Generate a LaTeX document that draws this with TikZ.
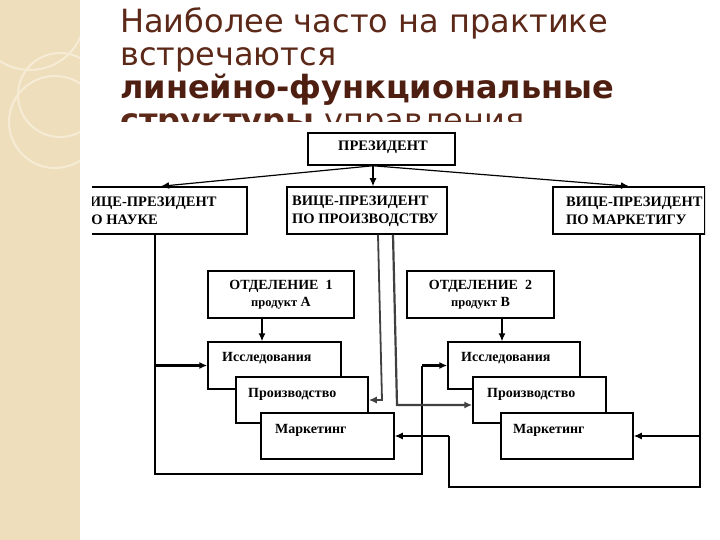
\documentclass[tikz,border=0pt]{standalone}
\usepackage{fontspec}
\setmainfont{Liberation Serif}
\newfontfamily\titlefont{DejaVu Sans}
\usetikzlibrary{arrows.meta,calc}
\definecolor{beige}{RGB}{238,222,188}
\definecolor{beigelight}{RGB}{246,236,214}
\definecolor{titlebrown}{RGB}{92,40,24}
\definecolor{titledark}{RGB}{78,30,16}
\begin{document}
\begin{tikzpicture}[x=1pt,y=-1pt,
  box/.style={draw, line width=1.5pt, fill=white, inner sep=0pt, rectangle},
  btxt/.style={font=\bfseries\fontsize{14}{18}\selectfont, inner sep=0pt},
  vtxt/.style={font=\bfseries\fontsize{14.5}{18}\selectfont, inner sep=0pt},
  ttl/.style={anchor=base west, inner sep=0pt, text=titlebrown, font=\titlefont\fontsize{32}{32}\selectfont},
  arr/.style={-{Latex[length=8pt,width=7pt]}, line width=1.2pt},
  thickarr/.style={-{Latex[length=8pt,width=7pt]}, line width=2.4pt},
  grayline/.style={-{Latex[length=8pt,width=7pt]}, line width=1.8pt, draw=black!75}
]
\useasboundingbox (0,0) rectangle (720,540);
% left decorative strip
\fill[beige] (0,0) rectangle (80,540);
\begin{scope}
\clip (0,0) rectangle (80,540);
\draw[beigelight, line width=2pt] (60,95) circle (42);
\draw[beigelight, line width=2pt] (30,15) circle (55);
\draw[beigelight, line width=2pt] (55,122) circle (46);
\end{scope}
% title
\node[ttl] (t1) at (120,33) {Наиболее часто на практике};
\node[ttl] (t2) at (120,66) {встречаются};
\node[ttl, text=titledark, font=\titlefont\bfseries\fontsize{32}{32}\selectfont] (t3) at (120,99) {линейно-функциональные};
\node[ttl] (t4) at (120,131.5) {{\bfseries структуры} управления};
% diagram background
\fill[white] (88,122) rectangle (720,500);
\begin{scope}
\clip (92,122) rectangle (705,500);
% boxes
\node[box, minimum width=147, minimum height=32] (pres) at (381.5,149) {};
\node[vtxt] (prest) at (383,147) {ПРЕЗИДЕНТ};
\node[box, minimum width=172, minimum height=47] (vps) at (161,210.5) {};
\node[vtxt, anchor=west, align=left] (vpst) at (80,211) {ВИЦЕ-ПРЕЗИДЕНТ\\ПО НАУКЕ};
\node[box, minimum width=160, minimum height=47] (vpp) at (367,210.5) {};
\node[vtxt, anchor=west, align=left] (vppt) at (292,211) {ВИЦЕ-ПРЕЗИДЕНТ\\ПО ПРОИЗВОДСТВУ};
\node[box, minimum width=152, minimum height=47] (vpm) at (629,210.5) {};
\node[vtxt, anchor=west, align=left] (vpmt) at (566,211) {ВИЦЕ-ПРЕЗИДЕНТ\\ПО МАРКЕТИГУ};
\node[box, minimum width=146, minimum height=47] (d1) at (281,294.5) {};
\node[btxt, align=center] (d1t) at (281,294.5) {ОТДЕЛЕНИЕ\ \ 1\\[-1pt]{\fontsize{12.5}{12.5}\selectfont продукт} А};
\node[box, minimum width=147, minimum height=47] (d2) at (480.5,294.5) {};
\node[btxt, align=center] (d2t) at (480.5,294.5) {ОТДЕЛЕНИЕ\ \ 2\\[-1pt]{\fontsize{12.5}{12.5}\selectfont продукт} В};
% division 1 units
\node[box, minimum width=133, minimum height=47] (r1) at (274.5,365.5) {};
\node[btxt, anchor=west] (r1t) at (222,358) {Исследования};
\node[box, minimum width=132, minimum height=46] (p1) at (302,400) {};
\node[btxt, anchor=west] (p1t) at (248,394) {Производство};
\node[box, minimum width=133, minimum height=46] (m1) at (327.5,436) {};
\node[btxt, anchor=west] (m1t) at (275,430) {Маркетинг};
% division 2 units
\node[box, minimum width=132, minimum height=47] (r2) at (514,365.5) {};
\node[btxt, anchor=west] (r2t) at (461,358) {Исследования};
\node[box, minimum width=133, minimum height=46] (p2) at (539.5,400) {};
\node[btxt, anchor=west] (p2t) at (487,394) {Производство};
\node[box, minimum width=132, minimum height=46] (m2) at (567,436) {};
\node[btxt, anchor=west] (m2t) at (513,430) {Маркетинг};
% president connectors
\coordinate (po) at ($(pres.south)+(-8.5,0)$);
\draw[arr] (po) -- (vps.north);
\draw[arr] (po) -- (po |- vpp.north);
\draw[arr] (po) -- (vpm.north);
% division to research
\draw[arr] ($(d1.south)+(-19,0)$) -- ($(r1.north)+(-12.5,0)$);
\draw[arr] ($(d2.south)+(21.5,0)$) -- ($(r2.north)+(-12,0)$);
% VP science
\coordinate (sa) at ($(vps.south)+(-6,0)$);
\draw[line width=2.6pt] (sa) -- (sa |- 0,474) -- (422,474) -- (422,365.5);
\draw[thickarr] (422,365.5) -- (r2.west);
\draw[thickarr] (sa |- r1.west) -- (r1.west);
% VP production
\draw[grayline] ($(vpp.south)+(11,0)$) -- (382,400) -- (p1.east);
\draw[grayline, line width=2.2pt] ($(vpp.south)+(26,0)$) -- (397,405) -- ($(p2.west)+(0,5)$);
% VP marketing
\coordinate (ma) at ($(vpm.south)+(71,0)$);
\draw[line width=1.3pt] (ma) -- (ma |- 0,487) -- (449,487) -- (449,436);
\draw[arr] (449,436) -- (m1.east);
\draw[arr] (ma |- m2.east) -- (m2.east);
\end{scope}
\end{tikzpicture}
\end{document}
